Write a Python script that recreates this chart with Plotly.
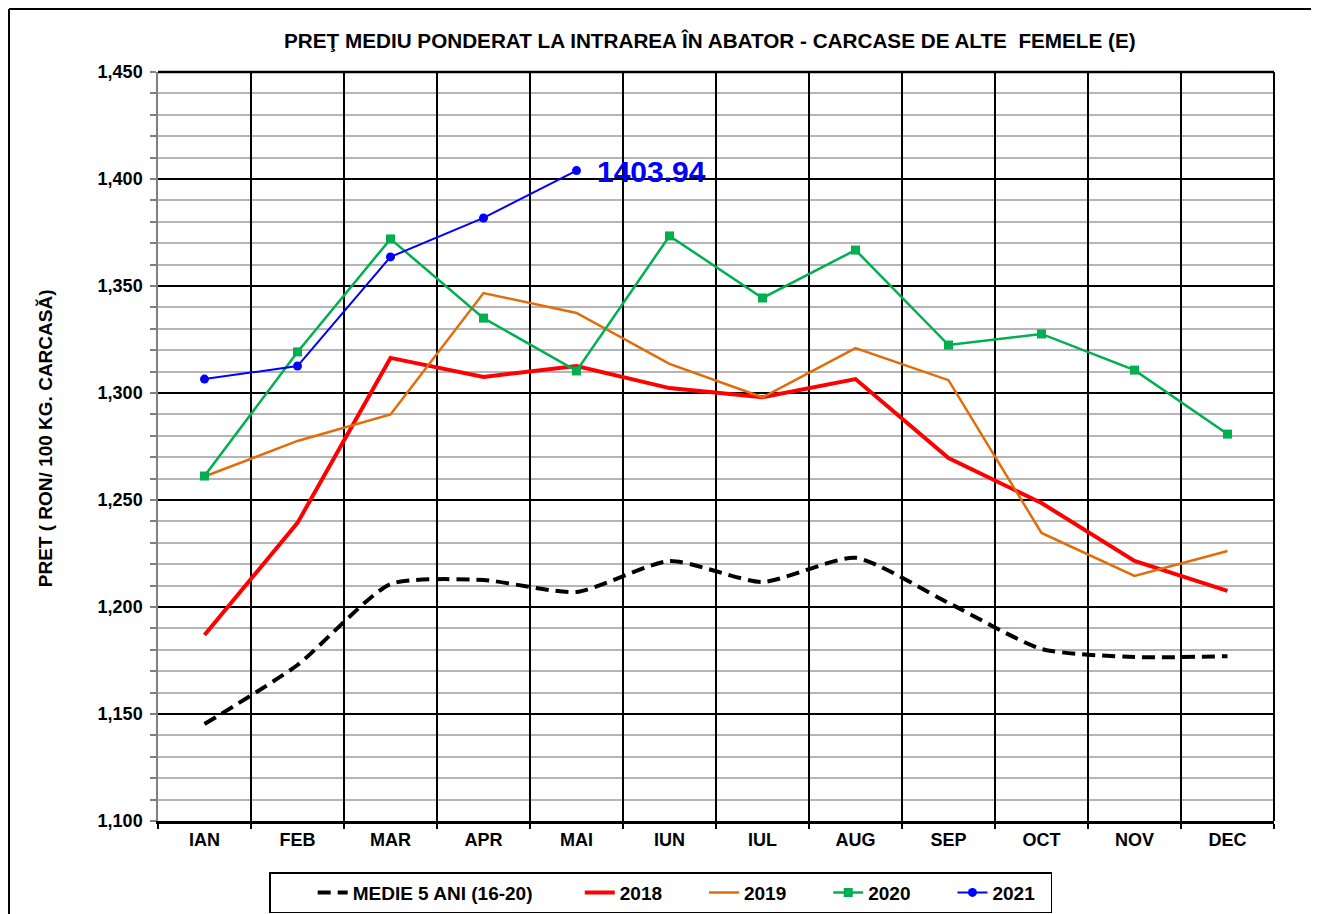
import plotly.graph_objects as go

months = ["IAN", "FEB", "MAR", "APR", "MAI", "IUN", "IUL", "AUG", "SEP", "OCT", "NOV", "DEC"]
medie = [1145.3, 1172.9, 1210.7, 1212.6, 1207.0, 1221.5, 1211.7, 1223.0, 1201.9, 1180.4, 1176.6, 1177.0]
y2018 = [1186.9, 1239.3, 1316.4, 1307.5, 1312.6, 1302.3, 1298.0, 1306.5, 1269.6, 1248.6, 1221.5, 1207.5]
y2019 = [1261.0, 1277.6, 1290.0, 1346.7, 1337.4, 1313.6, 1298.0, 1321.0, 1306.0, 1234.6, 1214.5, 1226.2]
y2020 = [1261.2, 1319.2, 1372.0, 1335.0, 1310.3, 1373.4, 1344.4, 1366.8, 1322.4, 1327.6, 1310.7, 1280.8]
y2021 = [1306.5, 1312.6, 1363.6, 1381.8, 1403.94]
months2021 = months[:5]

FONT = "Liberation Sans, Arial, sans-serif"
NB = "\u00a0"

fig = go.Figure()
fig.add_trace(go.Scatter(x=months, y=medie, name="MEDIE 5 ANI (16-20)" + NB * 8, mode="lines",
                         line=dict(color="black", width=4, dash="13px,7px", shape="spline", smoothing=0.6)))
fig.add_trace(go.Scatter(x=months, y=y2018, name="2018" + NB * 7, mode="lines",
                         line=dict(color="#FF0000", width=4)))
fig.add_trace(go.Scatter(x=months, y=y2019, name="2019" + NB * 7, mode="lines",
                         line=dict(color="#E36C0A", width=2.5)))
fig.add_trace(go.Scatter(x=months, y=y2020, name="2020" + NB * 7, mode="lines+markers",
                         line=dict(color="#00B050", width=2.5),
                         marker=dict(symbol="square", size=9, color="#00B050")))
fig.add_trace(go.Scatter(x=months2021, y=y2021, name="2021" + NB * 2, mode="lines+markers",
                         line=dict(color="#0000FF", width=2),
                         marker=dict(symbol="circle", size=9, color="#0000FF")))

fig.add_annotation(x=months2021[-1], y=y2021[-1], text=f"{y2021[-1]:.2f}", showarrow=False,
                   xanchor="left", yanchor="middle", xshift=18, yshift=-1,
                   font=dict(family=FONT, size=30, color="#0000FF", weight="bold"))

fig.add_annotation(xref="paper", yref="paper", x=0.4946, y=1.0427,
                   text="PREŢ MEDIU PONDERAT LA INTRAREA ÎN ABATOR - CARCASE DE ALTE  FEMELE (E)",
                   showarrow=False, xanchor="center", yanchor="middle",
                   font=dict(family=FONT, size=20.7, color="black", weight="bold"))
fig.add_annotation(xref="paper", yref="paper", x=-0.1013, y=0.511,
                   text="PRET ( RON/ 100 KG. CARCASĂ)", textangle=-90,
                   showarrow=False, xanchor="center", yanchor="middle",
                   font=dict(family=FONT, size=19, color="black", weight="bold"))

# outer frame (top and left edges) and plot frame (top/right edges)
fig.add_shape(type="line", xref="paper", yref="paper", x0=-0.1335, x1=1.0403, y0=1.0841, y1=1.0841,
              line=dict(color="black", width=2))
fig.add_shape(type="line", xref="paper", yref="paper", x0=-0.1335, x1=-0.1335, y0=1.0841, y1=-0.2,
              line=dict(color="black", width=2))
fig.add_shape(type="line", xref="paper", yref="paper", x0=0, x1=1, y0=1, y1=1,
              line=dict(color="black", width=2.5))
fig.add_shape(type="line", xref="paper", yref="paper", x0=1, x1=1, y0=0, y1=1,
              line=dict(color="black", width=2))

fig.update_layout(
    width=1311, height=906,
    margin=dict(l=150, r=45, t=64, b=93, autoexpand=False),
    paper_bgcolor="white", plot_bgcolor="white",
    font=dict(family=FONT, color="black"),
    showlegend=True,
    legend=dict(orientation="h", x=0.4507, y=0.0237, xanchor="center", yanchor="middle",
                yref="container",
                bordercolor="black", borderwidth=1.5, bgcolor="white",
                font=dict(family=FONT, size=19, color="black", weight="bold"),
                title=dict(text=NB * 6, side="left", font=dict(size=19)),
                tracegroupgap=0),
    xaxis=dict(type="category", categoryorder="array", categoryarray=months,
               tickson="boundaries", showgrid=True, gridcolor="black", gridwidth=1.5,
               showline=True, linecolor="black", linewidth=3, automargin=False,
               ticks="outside", ticklen=5, tickcolor="black", tickwidth=2,
               tickfont=dict(family=FONT, size=18, color="black", weight="bold"),
               range=[-0.5, 11.5], zeroline=False),
    yaxis=dict(range=[1100, 1450], dtick=50, tick0=1100, tickformat=",d",
               showgrid=True, gridcolor="black", gridwidth=2, automargin=False,
               showline=True, linecolor="#808080", linewidth=1.5,
               ticks="outside", ticklen=6, tickcolor="#808080", tickwidth=1.5,
               ticklabelstandoff=4,
               tickfont=dict(family=FONT, size=18, color="black", weight="bold"),
               zeroline=False,
               minor=dict(dtick=10, showgrid=True, gridcolor="#b5b5b5", gridwidth=1.5,
                          ticks="outside", ticklen=6, tickcolor="#808080", tickwidth=1.5)),
)

fig.write_html("out.html")
